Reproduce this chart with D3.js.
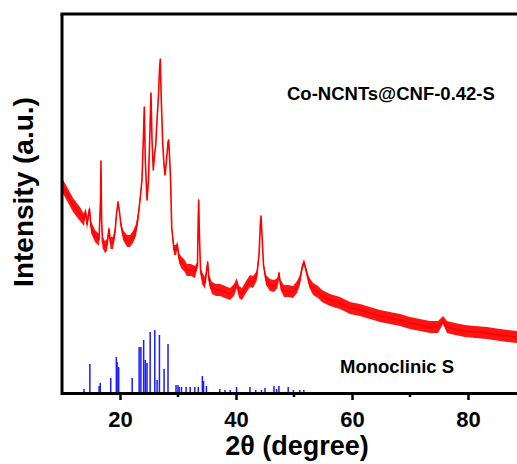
<!DOCTYPE html>
<html>
<head>
<meta charset="utf-8">
<script src="https://cdn.jsdelivr.net/npm/d3@7"></script>
<style>
  html, body { margin: 0; padding: 0; background: #fff; }
  svg { display: block; }
  text { font-family: Arial, "Liberation Sans", sans-serif; font-weight: bold; fill: #000; }
</style>
</head>
<body>
<svg id="chart" width="517" height="464"></svg>
<script>
// XRD trace of Co-NCNTs@CNF-0.42-S: diffraction angle (2θ, degree)
const twoTheta = [
  10.00, 10.69, 11.90, 13.10, 13.79, 14.05, 14.31, 14.74, 15.00, 15.69,
  16.38, 16.64, 16.72, 16.83, 16.98, 17.41, 17.76, 18.10, 18.36, 18.79,
  19.14, 19.40, 19.66, 19.91, 20.17, 20.52, 21.21, 21.72, 22.24, 22.76,
  23.10, 23.45, 23.79, 24.02, 24.19, 24.36, 24.66, 24.91, 25.17, 25.34,
  25.52, 25.74, 25.95, 26.16, 26.38, 26.64, 26.81, 26.95, 27.12, 27.36,
  27.59, 27.76, 28.02, 28.28, 28.40, 28.57, 28.74, 28.91, 29.31, 29.66,
  29.88, 30.17, 30.64, 31.03, 31.55, 32.24, 32.93, 33.36, 33.48, 33.57,
  33.67, 33.88, 34.14, 34.66, 35.12, 35.34, 35.86, 36.55, 37.24, 38.10,
  38.97, 39.66, 40.12, 40.52, 41.03, 41.72, 42.41, 42.93, 43.57, 43.97,
  44.19, 44.31, 44.48, 44.74, 45.17, 45.86, 46.55, 47.16, 47.41, 47.67,
  48.28, 48.97, 49.83, 50.52, 51.03, 51.38, 51.72, 52.07, 52.59, 53.28,
  54.14, 54.83, 56.21, 57.93, 59.66, 61.38, 63.10, 64.83, 66.55, 68.28,
  70.00, 71.72, 73.45, 74.83, 75.69, 76.38, 77.76, 79.48, 81.21, 83.28,
  85.52, 88.45, 90.00
];
// mean intensity of the trace (a.u.)
const intensity = [
  208, 201, 188, 179, 173, 182, 169, 184, 166, 157,
  153, 193, 232, 173, 151, 146, 148, 164, 150, 150,
  161, 179, 191, 181, 168, 158, 152, 152, 156, 163,
  175, 193, 213, 253, 286, 233, 193, 213, 263, 300,
  253, 223, 238, 248, 273, 298, 323, 334, 293, 250,
  228, 218, 233, 251, 253, 233, 210, 166, 143, 143,
  148, 135, 130, 128, 123, 123, 121, 128, 173, 193,
  163, 123, 115, 110, 131, 113, 105, 103, 103, 101,
  99, 103, 110, 101, 99, 106, 112, 111, 117, 138,
  168, 177, 158, 128, 113, 108, 107, 110, 120, 108,
  102, 102, 101, 106, 113, 125, 131, 123, 111, 104,
  101, 97, 93, 90, 85, 83, 80, 77, 75, 73,
  70, 68, 66, 66, 73, 66, 64, 62, 61, 60,
  58, 56, 55
];
// half-width of the noise band around the mean (a.u.)
const noise = [
  7, 7, 7, 7, 6, 3, 6, 3, 6, 6,
  6, 1, 1, 1, 6, 6, 6, 3, 6, 6,
  5, 2, 2, 2, 3, 5, 6, 6, 6, 6,
  5, 3, 2, 1, 1, 1, 2, 2, 1, 1,
  1, 2, 2, 2, 1, 1, 1, 1, 1, 2,
  2, 2, 2, 1, 1, 1, 1, 2, 5, 5,
  4, 5, 6, 6, 6, 6, 6, 3, 1, 1,
  1, 4, 6, 6, 2, 5, 6, 6, 6, 6,
  6, 6, 5, 6, 6, 6, 6, 6, 5, 2,
  1, 1, 1, 2, 5, 6, 6, 5, 2, 5,
  6, 6, 6, 6, 5, 3, 3, 3, 5, 6,
  6, 6, 6, 6, 6, 6, 6, 6, 6, 6,
  6, 6, 6, 6, 4, 6, 6, 6, 6, 6,
  6, 6, 6
];

// Reference pattern of monoclinic sulfur: line positions and relative heights
const refTheta = [
  13.8, 14.8, 16.4, 16.6, 18.4, 19.37, 19.5, 19.77, 22.1, 23.3,
  23.6, 24.08, 24.36, 24.66, 25.2, 26.0, 26.4, 26.8, 27.6, 28.28,
  29.66, 30.0, 30.2, 30.6, 31.4, 32.1, 32.9, 33.5, 34.2, 34.4,
  34.9, 37.2, 38.1, 39.0, 40.1, 42.4, 43.4, 44.4, 45.0, 46.55,
  47.0, 47.4, 49.0, 49.9, 51.0, 51.7
];
const refIntensity = [
  4, 29, 7, 10, 15, 36, 31, 26, 15, 46,
  46, 53, 33, 30, 61, 63, 13, 58, 24, 49,
  8, 8, 6, 6, 6, 6, 6, 6, 17, 12,
  7, 4, 3, 3, 6, 6, 3, 3, 5, 7,
  4, 7, 6, 3, 3, 3
];

const xMajorTicks = [20, 40, 60, 80];
const xMinorTicks = [30, 50, 70];
const sampleLabel = "Co-NCNTs@CNF-0.42-S";
const refLabel = "Monoclinic S";
const xTitle = "2θ (degree)";
const yTitle = "Intensity (a.u.)";

const svg = d3.select("#chart");
const plot = { left: 62, right: 526, top: 14, bottom: 393 };

const x = d3.scaleLinear().domain([10, 90]).range([plot.left, plot.right]);
const y = d3.scaleLinear().domain([0, 380]).range([plot.bottom, plot.bottom - 380]);

const trace = twoTheta.map((t, i) => ({ t, v: intensity[i], n: noise[i] }));

// noisy band of the measured trace
svg.append("path")
  .datum(trace)
  .attr("fill", "#ff0000")
  .attr("fill-opacity", 0.92)
  .attr("d", d3.area()
    .x(d => x(d.t))
    .y0(d => y(d.v - d.n))
    .y1(d => y(d.v + d.n)));

// measured trace
svg.append("path")
  .datum(trace)
  .attr("fill", "none")
  .attr("stroke", "#ff0000")
  .attr("stroke-width", 1.6)
  .attr("stroke-linejoin", "round")
  .attr("d", d3.line().x(d => x(d.t)).y(d => y(d.v)));

// reference sticks
svg.append("g")
  .selectAll("line")
  .data(refTheta.map((t, i) => ({ t, v: refIntensity[i] })))
  .join("line")
  .attr("x1", d => x(d.t)).attr("x2", d => x(d.t))
  .attr("y1", y(0)).attr("y2", d => y(d.v))
  .attr("stroke", "#1a1aff")
  .attr("stroke-width", 1.5);

// frame: left and top borders
svg.append("line")
  .attr("x1", plot.left).attr("x2", plot.left)
  .attr("y1", plot.top).attr("y2", plot.bottom + 2)
  .attr("stroke", "#000").attr("stroke-width", 3);
svg.append("line")
  .attr("x1", plot.left - 1.5).attr("x2", 517)
  .attr("y1", plot.top).attr("y2", plot.top)
  .attr("stroke", "#000").attr("stroke-width", 3);

// bottom axis
const xAxis = d3.axisBottom(x)
  .tickValues(xMajorTicks)
  .tickSize(7)
  .tickSizeOuter(0)
  .tickFormat(d3.format("d"));
const gx = svg.append("g").attr("transform", `translate(0,${plot.bottom})`).call(xAxis);
gx.select(".domain").attr("stroke", "#000").attr("stroke-width", 3);
gx.selectAll(".tick line").attr("stroke", "#000").attr("stroke-width", 2.5);
gx.selectAll(".tick text")
  .attr("y", 34)
  .attr("dy", 0)
  .style("font-size", "22px")
  .style("font-family", "Arial, 'Liberation Sans', sans-serif")
  .style("font-weight", "bold")
  .attr("fill", "#000");

svg.append("g")
  .selectAll("line")
  .data(xMinorTicks)
  .join("line")
  .attr("x1", d => x(d)).attr("x2", d => x(d))
  .attr("y1", plot.bottom).attr("y2", plot.bottom + 4)
  .attr("stroke", "#000").attr("stroke-width", 2.5);

// labels
svg.append("text")
  .attr("x", 287).attr("y", 100)
  .style("font-size", "18.5px")
  .text(sampleLabel);

svg.append("text")
  .attr("x", 340).attr("y", 373)
  .style("font-size", "18.5px")
  .text(refLabel);

svg.append("text")
  .attr("x", 297).attr("y", 455)
  .attr("text-anchor", "middle")
  .style("font-size", "27px")
  .text(xTitle);

svg.append("text")
  .attr("transform", "translate(33,192) rotate(-90)")
  .attr("text-anchor", "middle")
  .style("font-size", "28px")
  .text(yTitle);
</script>
</body>
</html>
